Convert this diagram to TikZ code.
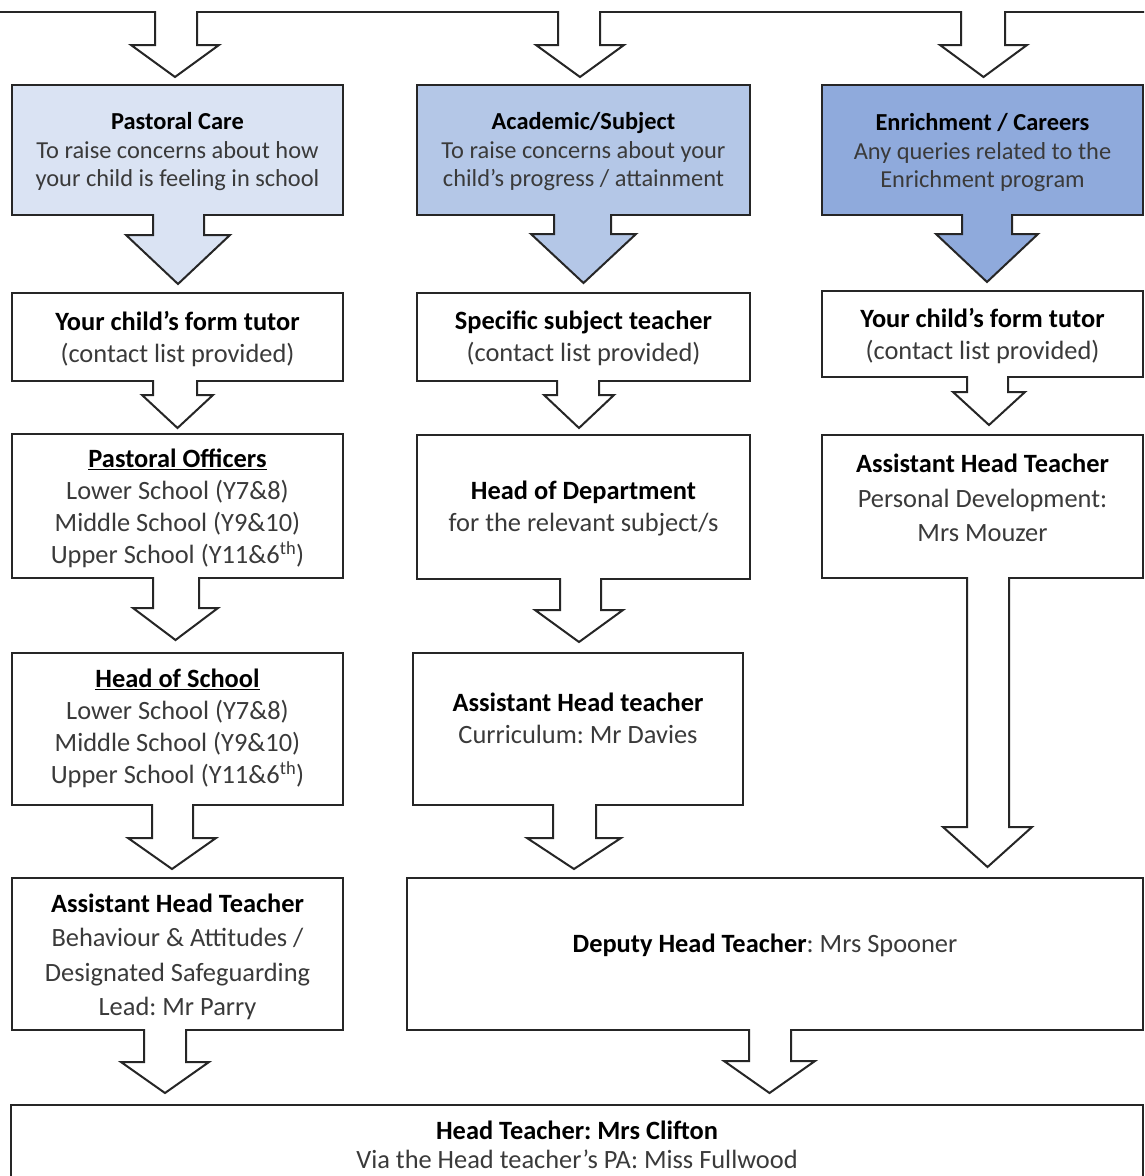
\documentclass[tikz,border=0pt]{standalone}
\usepackage{fontspec}
\setmainfont{Carlito}
\usetikzlibrary{calc}
\definecolor{cpast}{HTML}{DAE3F3}
\definecolor{cacad}{HTML}{B4C7E7}
\definecolor{cenr}{HTML}{8FAADC}
\definecolor{lnc}{HTML}{262626}
\definecolor{bodyc}{HTML}{3A3A3A}
\newcommand\ttl[1]{{\color{black}\bfseries #1}}
% #1 fill, #2 source node, #3 target node, #4 stem left x, #5 stem right x,
% #6 head left x, #7 head right x, #8 head height, #9 gap above target
\newcommand\barrow[9]{%
  \path[fill=#1] let \p1=(#2.south), \p2=(#3.north) in
    (#4pt,\y1+1.5pt) -- (#4pt,\y2+#9pt+#8pt) -- (#6pt,\y2+#9pt+#8pt)
    -- ({(#6+#7)/2*1pt},\y2+#9pt) -- (#7pt,\y2+#9pt+#8pt)
    -- (#5pt,\y2+#9pt+#8pt) -- (#5pt,\y1+1.5pt) -- cycle;
  \draw[arrline] let \p1=(#2.south), \p2=(#3.north) in
    (#4pt,\y1) -- (#4pt,\y2+#9pt+#8pt) -- (#6pt,\y2+#9pt+#8pt)
    -- ({(#6+#7)/2*1pt},\y2+#9pt) -- (#7pt,\y2+#9pt+#8pt)
    -- (#5pt,\y2+#9pt+#8pt) -- (#5pt,\y1);
}
\begin{document}
\frenchspacing
\begin{tikzpicture}[x=1pt,y=-1pt,
  boxst/.style={draw=lnc, line width=2pt, rectangle, inner sep=0pt, outer sep=0pt},
  arrline/.style={draw=lnc, line width=2pt, line join=miter, line cap=rect},
  txt/.style={align=center, inner sep=0pt, text=bodyc, font=\fontsize{26.4pt}{32pt}\selectfont},
  txtwide/.style={align=center, inner sep=0pt, text=bodyc, font=\fontsize{26.4pt}{34.5pt}\selectfont},
  txtsm/.style={align=center, inner sep=0pt, text=bodyc, font=\fontsize{24.4pt}{28.5pt}\selectfont}]
\clip (0,0) rectangle (1144,1176);
\fill[white] (0,0) rectangle (1144,1176);

% cut-off box at the top
\node[boxst, minimum width=1160pt, minimum height=40pt] (intro) at (572,-8) {};

% row 1
\node[boxst, fill=cpast, minimum width=331pt, minimum height=130pt] (P1) at (177.5,150) {};
\node[boxst, fill=cacad, minimum width=333pt, minimum height=130pt] (A1) at (583.5,150) {};
\node[boxst, fill=cenr, minimum width=321pt, minimum height=130pt] (E1) at (982.5,150) {};
% row 2
\node[boxst, minimum width=331pt, minimum height=88pt] (P2) at (177.5,337) {};
\node[boxst, minimum width=333pt, minimum height=88pt] (A2) at (583.5,337) {};
\node[boxst, minimum width=321pt, minimum height=86pt] (E2) at (982.5,334) {};
% row 3
\node[boxst, minimum width=331pt, minimum height=144pt] (P3) at (177.5,506) {};
\node[boxst, minimum width=333pt, minimum height=144pt] (A3) at (583.5,507) {};
\node[boxst, minimum width=321pt, minimum height=143pt] (E3) at (982.5,506.5) {};
% row 4
\node[boxst, minimum width=331pt, minimum height=152pt] (P4) at (177.5,729) {};
\node[boxst, minimum width=330pt, minimum height=152pt] (A4) at (578,729) {};
% row 5
\node[boxst, minimum width=331pt, minimum height=152pt] (P5) at (177.5,954) {};
\node[boxst, minimum width=736pt, minimum height=152pt] (D5) at (775,954) {};
% head teacher
\node[boxst, minimum width=1132pt, minimum height=115pt] (HT) at (577,1162.5) {};

% block arrows
\barrow{white}{intro}{P1}{155}{197}{131}{219}{32}{8}
\barrow{white}{intro}{A1}{558}{600}{536}{624}{32}{8}
\barrow{white}{intro}{E1}{961}{1005}{940}{1027}{32}{8}

\barrow{cpast}{P1}{P2}{153}{204}{126}{230}{49}{9}
\barrow{cacad}{A1}{A2}{554}{611}{531}{636}{49}{10}
\barrow{cenr}{E1}{E2}{962}{1012}{936}{1038}{48}{9}

\barrow{white}{P2}{P3}{153}{197}{142}{213}{33}{6}
\barrow{white}{A2}{A3}{557}{599}{544}{614}{33}{7}
\barrow{white}{E2}{E3}{967}{1008}{953}{1025}{33}{10}

\barrow{white}{P3}{P4}{153}{199}{133}{218}{32}{13}
\barrow{white}{A3}{A4}{560}{601}{535}{623}{32}{11}
\barrow{white}{E3}{D5}{967}{1009}{943}{1032}{40}{11}

\barrow{white}{P4}{P5}{152}{193}{128}{216}{31}{9}
\barrow{white}{A4}{D5}{553}{596}{527}{621}{31}{9}

\barrow{white}{P5}{HT}{144}{186}{121}{209}{31}{12}
\barrow{white}{D5}{HT}{749}{791}{724}{815}{32}{12}

% texts
\node[txtsm] (P1t) at (177.5,152) {\ttl{Pastoral Care}\\To raise concerns about how\\your child is feeling in school};
\node[txtsm] (A1t) at (583.5,152) {\ttl{Academic/Subject}\\To raise concerns about your\\child’s progress / attainment};
\node[txtsm] (E1t) at (982.5,153) {\ttl{Enrichment / Careers}\\Any queries related to the\\Enrichment program};

\node[txt] (P2t) at (177.5,339) {\ttl{Your child’s form tutor}\\(contact list provided)};
\node[txt] (A2t) at (583.5,338) {\ttl{Specific subject teacher}\\(contact list provided)};
\node[txt] (E2t) at (982.5,336.5) {\ttl{Your child’s form tutor}\\(contact list provided)};

\node[txt] (P3t) at (177.5,508) {\ttl{\underline{Pastoral Officers}}\\Lower School (Y7\&8)\\Middle School (Y9\&10)\\Upper School (Y11\&6\textsuperscript{th})};
\node[txt] (A3t) at (583.5,508.5) {\ttl{Head of Department}\\for the relevant subject/s};
\node[txtwide] (E3t) at (982.5,498) {\ttl{Assistant Head Teacher}\\Personal Development:\\Mrs Mouzer};

\node[txt] (P4t) at (177.5,728.5) {\ttl{\underline{Head of School}}\\Lower School (Y7\&8)\\Middle School (Y9\&10)\\Upper School (Y11\&6\textsuperscript{th})};
\node[txt] (A4t) at (578,718) {\ttl{Assistant Head teacher}\\Curriculum: Mr Davies};

\node[txtwide] (P5t) at (177.5,957) {\ttl{Assistant Head Teacher}\\Behaviour \& Attitudes /\\Designated Safeguarding\\Lead: Mr Parry};
\node[txt] (D5t) at (765,945) {\ttl{Deputy Head Teacher}: Mrs Spooner};

\node[txt, font=\fontsize{26.4pt}{29.5pt}\selectfont] (HTt) at (577,1145) {\ttl{Head Teacher: Mrs Clifton}\\Via the Head teacher’s PA: Miss Fullwood};
\end{tikzpicture}
\end{document}
